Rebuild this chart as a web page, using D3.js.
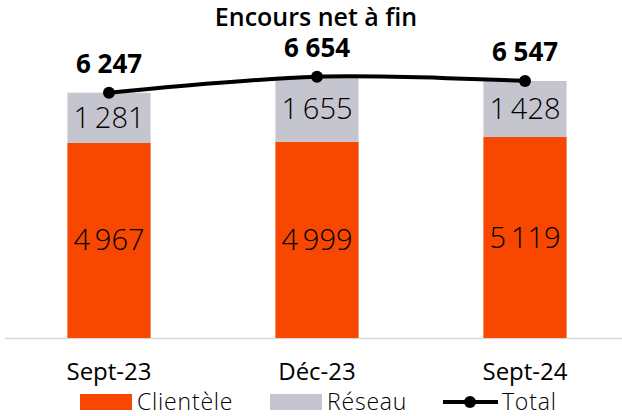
<html>
<head>
<meta charset="utf-8">
<script src="https://d3js.org/d3.v7.min.js"></script>
<style>
body { margin: 0; background: #fff; }
text { font-family: "Open Sans", Lato, sans-serif; fill: #000; }
</style>
</head>
<body>
<svg id="chart" width="622" height="416"></svg>
<script>
// data
var categories = ["Sept-23", "Déc-23", "Sept-24"];
var clientele = [4967, 4999, 5119];
var reseau = [1281, 1655, 1428];
var totals = [6247, 6654, 6547];

var orange = "#f74700", grey = "#c5c5cf";
var fmt = function(v) { return d3.format(",")(v).replace(",", "\u2009"); };
var fmtBig = function(v) { return d3.format(",")(v).replace(",", " "); };

var svg = d3.select("#chart");
var base = 338;

var x = d3.scaleBand().domain(categories).range([5, 629]).paddingInner(0.6).paddingOuter(0.3);
var y = d3.scaleLinear().domain([0, 7000]).range([base, base - 7000 * 0.03926]);

// title
svg.append("text").attr("x", 316).attr("y", 26).attr("text-anchor", "middle")
  .style("font-size", "25px").style("font-weight", 600).text("Encours net à fin");

// axis line
svg.append("line").attr("x1", 5).attr("x2", 622).attr("y1", base + 0.5).attr("y2", base + 0.5)
  .attr("stroke", "#d9d9d9").attr("stroke-width", 1.5);

// bars
svg.append("g").selectAll("rect").data(categories).enter().append("rect")
  .attr("x", function(d) { return x(d); })
  .attr("y", function(d, i) { return y(clientele[i]); })
  .attr("width", x.bandwidth())
  .attr("height", function(d, i) { return base - y(clientele[i]); })
  .attr("fill", orange);

svg.append("g").selectAll("rect").data(categories).enter().append("rect")
  .attr("x", function(d) { return x(d); })
  .attr("y", function(d, i) { return y(clientele[i] + reseau[i]); })
  .attr("width", x.bandwidth())
  .attr("height", function(d, i) { return y(clientele[i]) - y(clientele[i] + reseau[i]); })
  .attr("fill", grey);

// bar labels
svg.append("g").selectAll("text").data(categories).enter().append("text")
  .attr("x", function(d) { return x(d) + x.bandwidth() / 2; })
  .attr("y", function(d, i) { return y(clientele[i] / 2) + 10; })
  .attr("text-anchor", "middle").style("font-size", "29px").style("font-weight", 300)
  .text(function(d, i) { return fmt(clientele[i]); });

svg.append("g").selectAll("text").data(categories).enter().append("text")
  .attr("x", function(d) { return x(d) + x.bandwidth() / 2; })
  .attr("y", function(d, i) { return y(clientele[i] + reseau[i] / 2) + 10; })
  .attr("text-anchor", "middle").style("font-size", "29px").style("font-weight", 300)
  .text(function(d, i) { return fmt(reseau[i]); });

// total line
var line = d3.line()
  .x(function(d, i) { return x(categories[i]) + x.bandwidth() / 2; })
  .y(function(d) { return y(d); })
  .curve(d3.curveCatmullRom.alpha(0.5));

svg.append("path").datum(totals).attr("d", line)
  .attr("fill", "none").attr("stroke", "#000").attr("stroke-width", 4);

svg.append("g").selectAll("circle").data(totals).enter().append("circle")
  .attr("cx", function(d, i) { return x(categories[i]) + x.bandwidth() / 2; })
  .attr("cy", function(d) { return y(d); })
  .attr("r", 6).attr("fill", "#000");

svg.append("g").selectAll("text").data(totals).enter().append("text")
  .attr("x", function(d, i) { return x(categories[i]) + x.bandwidth() / 2; })
  .attr("y", function(d) { return y(d) - 20; })
  .attr("text-anchor", "middle").style("font-size", "26px").style("font-weight", "bold")
  .text(function(d) { return fmtBig(d); });

// category labels
svg.append("g").selectAll("text").data(categories).enter().append("text")
  .attr("x", function(d) { return x(d) + x.bandwidth() / 2; })
  .attr("y", 380)
  .attr("text-anchor", "middle").style("font-size", "24px").style("font-weight", 500)
  .text(function(d) { return d; });

// legend
var leg = svg.append("g").attr("transform", "translate(0,402)");
leg.append("rect").attr("x", 80).attr("y", -8).attr("width", 52).attr("height", 16).attr("fill", orange);
leg.append("text").attr("x", 137).attr("y", 8).style("font-size", "23px").style("font-weight", 300)
  .style("letter-spacing", "0.8px").text("Clientèle");
leg.append("rect").attr("x", 270).attr("y", -8).attr("width", 52).attr("height", 16).attr("fill", grey);
leg.append("text").attr("x", 327).attr("y", 8).style("font-size", "23px").style("font-weight", 300)
  .style("letter-spacing", "0.8px").text("Réseau");
leg.append("line").attr("x1", 443).attr("x2", 498).attr("y1", 0).attr("y2", 0).attr("stroke", "#000").attr("stroke-width", 4);
leg.append("circle").attr("cx", 470).attr("cy", 0).attr("r", 6).attr("fill", "#000");
leg.append("text").attr("x", 502).attr("y", 8).style("font-size", "23px").style("font-weight", 300)
  .style("letter-spacing", "0.8px").text("Total");
</script>
</body>
</html>
